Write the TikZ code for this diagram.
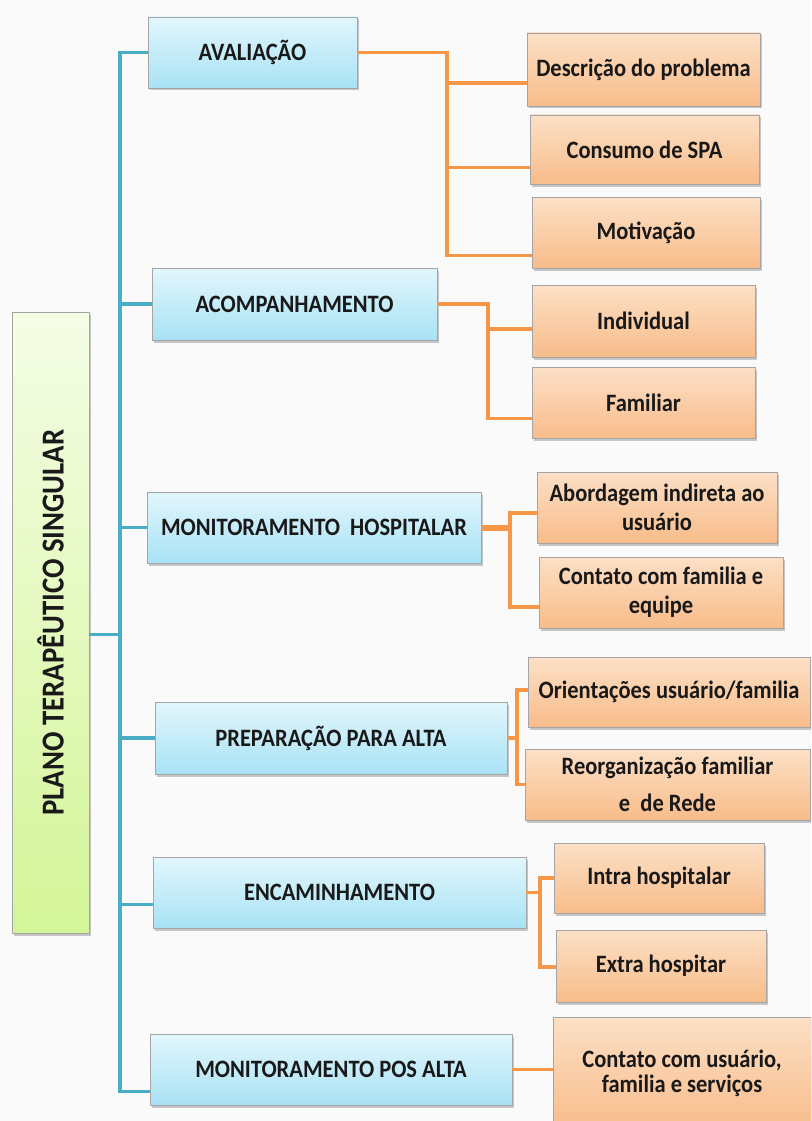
\documentclass[tikz,border=0pt]{standalone}
\usepackage{fontspec}
\newfontfamily\boxfont{Carlito}[FakeStretch=0.9]
\usetikzlibrary{shadows,calc}

\definecolor{bgc}{RGB}{250,250,250}
\definecolor{txt}{RGB}{25,25,25}
\definecolor{edge}{RGB}{165,165,165}
\definecolor{bluetop}{RGB}{226,246,252}
\definecolor{bluebot}{RGB}{168,226,245}
\definecolor{orgtop}{RGB}{252,224,198}
\definecolor{orgbot}{RGB}{248,188,138}
\definecolor{grntop}{RGB}{245,253,230}
\definecolor{grnbot}{RGB}{212,245,152}
\definecolor{blueline}{RGB}{75,172,198}
\definecolor{orgline}{RGB}{247,150,70}

\tikzset{
  box/.style={draw=edge, line width=0.8pt, inner sep=2pt, align=center,
    text=txt, font=\boxfont\bfseries\fontsize{25}{29}\selectfont,
    drop shadow={shadow xshift=1.5pt, shadow yshift=-2.5pt, opacity=0.3, fill=black!70}},
  topic/.style={box, top color=bluetop, bottom color=bluebot},
  item/.style={box, top color=orgtop, bottom color=orgbot},
  rootbox/.style={box, top color=grntop, bottom color=grnbot},
  bl/.style={draw=blueline, line width=3.5pt, line join=miter},
  ol/.style={draw=orgline, line width=3.5pt, line join=miter},
}

\begin{document}
\begin{tikzpicture}[x=1pt, y=-1pt]
\useasboundingbox (0,0) rectangle (811,1121);
\fill[bgc] (0,0) rectangle (811,1121);
\clip (0,0) rectangle (811,1121);

% root
\node[rootbox, minimum width=77pt, minimum height=621pt] (root) at (50.5,622.5) {};
\node[rotate=90, text=txt, font=\boxfont\bfseries\fontsize{32}{36}\selectfont] (rootlbl) at (root.center) {PLANO TERAPÊUTICO SINGULAR};

% main topics
\node[topic, minimum width=209pt, minimum height=71pt] (av) at (252.5,52.5) {AVALIAÇÃO};
\node[topic, minimum width=285pt, minimum height=72pt] (ac) at (294.5,304) {ACOMPANHAMENTO};
\node[topic, minimum width=334pt, minimum height=71pt] (mh) at (314,527.5) {MONITORAMENTO\ \ HOSPITALAR};
\node[topic, minimum width=352pt, minimum height=72pt] (pa) at (331,738) {PREPARAÇÃO PARA ALTA};
\node[topic, minimum width=373pt, minimum height=71pt] (en) at (339.5,892.5) {ENCAMINHAMENTO};
\node[topic, minimum width=362pt, minimum height=71pt] (mp) at (331,1069.5) {MONITORAMENTO POS ALTA};

% sub-items
\node[item, minimum width=233pt, minimum height=73pt] (d1) at (643.5,69.5) {Descrição do problema};
\node[item, minimum width=229pt, minimum height=69pt] (d2) at (644.5,149.5) {Consumo de SPA};
\node[item, minimum width=228pt, minimum height=71pt] (d3) at (646,232.5) {Motivação};
\node[item, minimum width=223pt, minimum height=72pt] (c1) at (643.5,321) {Individual};
\node[item, minimum width=223pt, minimum height=71pt] (c2) at (643.5,402.5) {Familiar};
\node[item, minimum width=240pt, minimum height=71pt] (m1) at (657,507.5) {Abordagem indireta ao\\usuário};
\node[item, minimum width=244pt, minimum height=71pt] (m2) at (661,592.5) {Contato com familia e\\equipe};
\node[item, minimum width=282pt, minimum height=70pt] (p1) at (669,692) {Orientações usuário/familia};
\node[item, minimum width=285pt, minimum height=71pt, font=\boxfont\bfseries\fontsize{25}{37}\selectfont] (p2) at (667.5,784.5) {Reorganização familiar\\e\ \ de Rede};
\node[item, minimum width=210pt, minimum height=70pt] (e1) at (659,878) {Intra hospitalar};
\node[item, minimum width=210pt, minimum height=72pt] (e2) at (661,966) {Extra hospitar};
\node[item, minimum width=258pt, minimum height=113pt, font=\boxfont\bfseries\fontsize{25}{25}\selectfont] (f1) at (682,1073.5) {Contato com usuário,\\familia e serviços};

% blue trunk and branches
\coordinate (t) at (120,0);
\draw[bl] (av.west) -- (av.west -| t) -- ([yshift=-22pt]mp.west -| t) -- ([yshift=-22pt]mp.west);
\draw[bl] (ac.west) -- (ac.west -| t);
\draw[bl] (mh.west) -- (mh.west -| t);
\draw[bl] (pa.west) -- (pa.west -| t);
\draw[bl] ([yshift=-12pt]en.west) -- ([yshift=-12pt]en.west -| t);
\draw[bl] ([yshift=-12pt]root.east) -- ([yshift=-12pt]root.east -| t);

% orange connectors
\coordinate (ax) at (447,0);
\draw[ol] (av.east) -- (av.east -| ax) -- ([yshift=-23pt]d3.west -| ax) -- ([yshift=-23pt]d3.west);
\draw[ol] ([yshift=-13.5pt]d1.west -| ax) -- ([yshift=-13.5pt]d1.west);
\draw[ol] ([yshift=-18pt]d2.west -| ax) -- ([yshift=-18pt]d2.west);

\coordinate (cx) at (488,0);
\draw[ol] (ac.east) -- (ac.east -| cx) -- ([yshift=-16pt]c2.west -| cx) -- ([yshift=-16pt]c2.west);
\draw[ol] ([yshift=-8pt]c1.west -| cx) -- ([yshift=-8pt]c1.west);

\coordinate (mx) at (510,0);
\draw[ol, line width=6pt] (mh.east) -- (mh.east -| mx);
\draw[ol] ([yshift=-5.5pt]m1.west) -- ([yshift=-5.5pt]m1.west -| mx) -- ([yshift=-14.5pt]m2.west -| mx) -- ([yshift=-14.5pt]m2.west);

\coordinate (px) at (517,0);
\draw[ol] (pa.east) -- (pa.east -| px);
\draw[ol] ([yshift=2pt]p1.west) -- ([yshift=2pt]p1.west -| px) -- (p2.west -| px) -- (p2.west);

\coordinate (ex) at (540,0);
\draw[ol] (en.east) -- (en.east -| ex);
\draw[ol] (e1.west) -- (e1.west -| ex) -- ([yshift=-1pt]e2.west -| ex) -- ([yshift=-1pt]e2.west);

\draw[ol] (mp.east) -- (mp.east -| f1.west);
\end{tikzpicture}
\end{document}
